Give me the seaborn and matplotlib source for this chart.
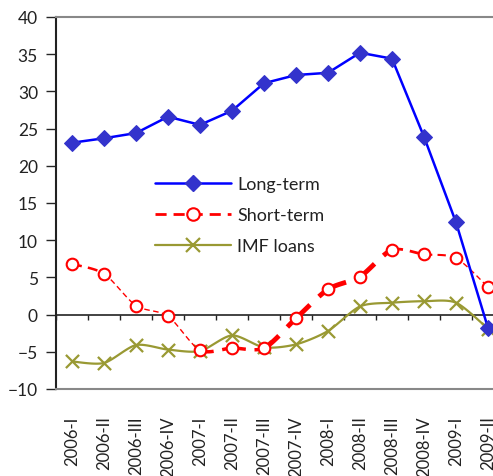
import numpy as np
import pandas as pd
import matplotlib
matplotlib.use("Agg")
import matplotlib.pyplot as plt
from matplotlib.lines import Line2D
import seaborn as sns

quarters = ["2006-I", "2006-II", "2006-III", "2006-IV", "2007-I", "2007-II", "2007-III",
            "2007-IV", "2008-I", "2008-II", "2008-III", "2008-IV", "2009-I", "2009-II"]
long_term = [23.1, 23.7, 24.4, 26.6, 25.5, 27.4, 31.1, 32.2, 32.5, 35.2, 34.4, 23.9, 12.4, -1.8]
short_term = [6.8, 5.5, 1.2, -0.2, -4.8, -4.5, -4.5, -0.5, 3.4, 5.1, 8.7, 8.1, 7.6, 3.7]
imf_loans = [-6.3, -6.5, -4.1, -4.7, -4.9, -2.8, -4.4, -4.0, -2.2, 1.1, 1.6, 1.8, 1.6, -1.9]

BLUE = "#0000FF"
BLUE_MK = "#3333CC"
RED = "#FF0000"
OLIVE = "#999933"

sns.set_style("white")
plt.rcParams["font.family"] = ["Lato", "DejaVu Sans"]

df = pd.DataFrame({"q": np.arange(len(quarters)), "long": long_term,
                   "short": short_term, "imf": imf_loans})

fig = plt.figure(figsize=(4.93, 4.77), dpi=100)
ax = fig.add_axes([56 / 493, 87 / 477, 448 / 493, 372 / 477])


def smooth(x, y, n=20, t=0.4):
    """Cardinal spline through the points (smoothed-line rendering)."""
    x = np.asarray(x, float)
    y = np.asarray(y, float)
    px = np.concatenate([[x[0]], x, [x[-1]]])
    py = np.concatenate([[y[0]], y, [y[-1]]])
    segs = []
    for i in range(1, len(px) - 2):
        s = np.linspace(0, 1, n)
        h00 = 2 * s**3 - 3 * s**2 + 1
        h10 = s**3 - 2 * s**2 + s
        h01 = -2 * s**3 + 3 * s**2
        h11 = s**3 - s**2
        mx0 = t * (px[i + 1] - px[i - 1])
        mx1 = t * (px[i + 2] - px[i])
        my0 = t * (py[i + 1] - py[i - 1])
        my1 = t * (py[i + 2] - py[i])
        sx = h00 * px[i] + h10 * mx0 + h01 * px[i + 1] + h11 * mx1
        sy = h00 * py[i] + h10 * my0 + h01 * py[i + 1] + h11 * my1
        segs.append((sx, sy))
    return segs


# IMF loans: smoothed olive line with x markers
for sx, sy in smooth(df["q"], df["imf"]):
    ax.plot(sx, sy, color=OLIVE, lw=1.6, zorder=2)
sns.scatterplot(data=df, x="q", y="imf", marker="x", s=90, color=OLIVE,
                linewidth=1.6, ax=ax, zorder=3, legend=False)

# Short-term: smoothed red dashed line of varying weight, open circles
widths = [1.8, 1.0, 1.0, 1.0, 2.5, 2.5, 3.5, 3.5, 3.5, 3.5, 2.0, 1.5, 1.0]
for (sx, sy), w in zip(smooth(df["q"], df["short"]), widths):
    ax.plot(sx, sy, color=RED, lw=w, ls=(0, (4, 2.5)), zorder=4)
ax.scatter(df["q"], df["short"], s=70, facecolor="white", edgecolor=RED,
           linewidth=1.5, zorder=5)

# Long-term: blue line with diamonds
sns.lineplot(data=df, x="q", y="long", color=BLUE, lw=1.8, marker="D",
             markersize=8, markerfacecolor=BLUE_MK, markeredgecolor=BLUE_MK,
             ax=ax, zorder=6)

ax.set_xlim(-0.5, 13.5)
ax.set_ylim(-10, 40)
ax.set_yticks(np.arange(-10, 41, 5))
ax.set_xticks(df["q"])
ax.set_xticklabels(quarters, rotation=90, fontsize=12, color="#222222")
ax.tick_params(axis="x", length=0, pad=19)
ax.tick_params(axis="y", length=7, width=1, direction="out", left=True,
               labelsize=12.5, labelcolor="#222222", pad=6)
ax.set_xlabel("")
ax.set_ylabel("")

for side in ("top", "bottom"):
    ax.spines[side].set_color("#888888")
    ax.spines[side].set_linewidth(1.5)
ax.spines["right"].set_visible(False)
ax.spines["left"].set_color("#222222")
ax.spines["left"].set_linewidth(1.5)

# zero line with category-boundary ticks
ax.axhline(0, color="#222222", lw=1.2, zorder=1)
ax.vlines(np.arange(-0.5, 13.6, 1.0), -0.7, 0, color="#222222", lw=1.0, zorder=1)

handles = [
    Line2D([], [], color=BLUE, lw=1.8, marker="D", markersize=8,
           markerfacecolor=BLUE_MK, markeredgecolor=BLUE_MK),
    Line2D([], [], color=RED, lw=2.0, ls=(0, (4, 2.5)), marker="o", markersize=9,
           markerfacecolor="white", markeredgecolor=RED, markeredgewidth=1.5),
    Line2D([], [], color=OLIVE, lw=1.6, marker="x", markersize=10,
           markeredgewidth=1.6),
]
ax.legend(handles, ["Long-term", "Short-term", "IMF loans"], loc="upper left",
          bbox_to_anchor=(0.185, 0.615), frameon=False, fontsize=13,
          handlelength=4.2, handletextpad=0.35, labelspacing=0.82,
          labelcolor="#222222")

fig.savefig("out.png", dpi=100)
